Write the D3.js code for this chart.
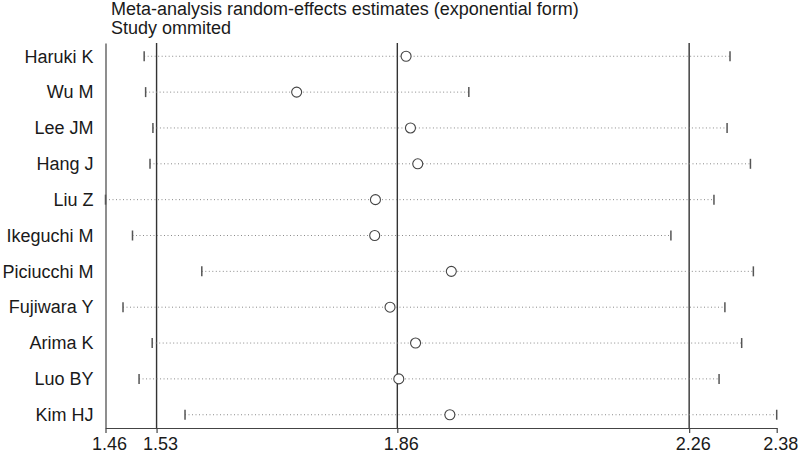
<!DOCTYPE html>
<html>
<head>
<meta charset="utf-8">
<script src="https://cdn.jsdelivr.net/npm/d3@7/dist/d3.min.js"></script>
<style>
  html, body { margin: 0; padding: 0; background: #fff; }
  svg { display: block; }
  text { font-family: "Liberation Sans", Arial, Helvetica, sans-serif; fill: #1a1a1a; }
</style>
</head>
<body>
<svg id="chart" width="800" height="451"></svg>
<script>
// ---- Data ----
const studies = ["Haruki K", "Wu M", "Lee JM", "Hang J", "Liu Z", "Ikeguchi M",
                 "Piciucchi M", "Fujiwara Y", "Arima K", "Luo BY", "Kim HJ"];
const estimate = [1.872, 1.722, 1.878, 1.888, 1.830, 1.829, 1.934, 1.850, 1.885, 1.862, 1.932];
const lower    = [1.513, 1.515, 1.525, 1.521, 1.460, 1.497, 1.592, 1.484, 1.524, 1.506, 1.569];
const upper    = [2.316, 1.958, 2.312, 2.344, 2.294, 2.235, 2.348, 2.309, 2.332, 2.301, 2.380];
const refLines = [1.53, 1.86, 2.26];
const tickValues = [1.46, 1.53, 1.86, 2.26, 2.38];
const titleLines = ["Meta-analysis random-effects estimates (exponential form)", "Study ommited"];

// ---- Layout ----
const svg = d3.select("#chart");
const x = d3.scaleLinear().domain([1.46, 2.38]).range([105.5, 776.7]);
const y = d3.scalePoint().domain(studies).range([43, 428]).padding(0.37);
const axisY = 428;
const axisColor = "#444";
const fontSize = 18;

// Title
svg.append("g").selectAll("text")
  .data(titleLines).join("text")
  .attr("x", 111)
  .attr("y", (d, i) => 14.5 + i * 19.5)
  .attr("font-size", fontSize)
  .text(d => d);

// Reference vertical lines
svg.append("g").selectAll("line")
  .data(refLines).join("line")
  .attr("x1", d => x(d)).attr("x2", d => x(d))
  .attr("y1", 43).attr("y2", axisY)
  .attr("stroke", "#333").attr("stroke-width", 1.4);

// X axis
const xAxis = svg.append("g")
  .attr("transform", `translate(0,${axisY})`)
  .call(d3.axisBottom(x).tickValues(tickValues).tickFormat(d3.format(".2f"))
        .tickSize(5).tickSizeOuter(0).tickPadding(4));
xAxis.select(".domain").attr("stroke", axisColor).attr("stroke-width", 1.2);
xAxis.selectAll(".tick line").attr("stroke", axisColor).attr("stroke-width", 1.2);
xAxis.selectAll(".tick text").attr("font-size", fontSize).attr("fill", "#1a1a1a")
  .attr("dx", 3.5)
  .attr("font-family", "Liberation Sans, Arial, sans-serif");

// Y axis
const yAxis = svg.append("g")
  .attr("transform", `translate(${x(1.46)},0)`)
  .call(d3.axisLeft(y).tickSize(0).tickSizeOuter(0).tickPadding(12));
yAxis.select(".domain").attr("stroke", axisColor).attr("stroke-width", 1.2);
yAxis.selectAll(".tick text").attr("font-size", fontSize).attr("fill", "#1a1a1a")
  .attr("font-family", "Liberation Sans, Arial, sans-serif");

// Rows
const rows = studies.map((s, i) => ({ s, est: estimate[i], lo: lower[i], hi: upper[i] }));
const g = svg.append("g");

g.selectAll("line.ci").data(rows).join("line")
  .attr("class", "ci")
  .attr("x1", d => x(d.lo)).attr("x2", d => x(d.hi))
  .attr("y1", d => y(d.s)).attr("y2", d => y(d.s))
  .attr("stroke", "#8a8a8a").attr("stroke-width", 1)
  .attr("stroke-dasharray", "1,2.5");

g.selectAll("line.capL").data(rows).join("line")
  .attr("class", "capL")
  .attr("x1", d => x(d.lo)).attr("x2", d => x(d.lo))
  .attr("y1", d => y(d.s) - 5).attr("y2", d => y(d.s) + 5)
  .attr("stroke", "#555").attr("stroke-width", 1.5);

g.selectAll("line.capR").data(rows).join("line")
  .attr("class", "capR")
  .attr("x1", d => x(d.hi)).attr("x2", d => x(d.hi))
  .attr("y1", d => y(d.s) - 5).attr("y2", d => y(d.s) + 5)
  .attr("stroke", "#555").attr("stroke-width", 1.5);

g.selectAll("circle").data(rows).join("circle")
  .attr("cx", d => x(d.est)).attr("cy", d => y(d.s))
  .attr("r", 5)
  .attr("fill", "#fff").attr("stroke", "#444").attr("stroke-width", 1.1);
</script>
</body>
</html>
